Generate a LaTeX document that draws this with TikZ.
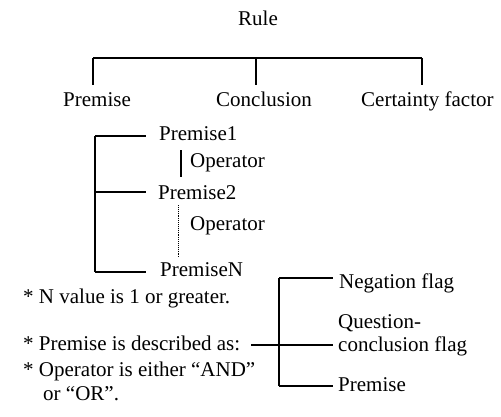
\documentclass[tikz,border=0pt]{standalone}
\usepackage{fontspec}
\setmainfont{Liberation Serif}
\begin{document}
\begin{tikzpicture}[x=1pt,y=-1pt,
    every node/.style={inner sep=0pt, font=\fontsize{21}{24}\selectfont},
    lbl/.style={anchor=base west},
    tree/.style={line width=1.2pt}]
    \useasboundingbox (0,0) rectangle (501,416);

    %-------------------------
    % Rule and its parts
    %-------------------------
    \node[lbl] (rule) at (238,25.5) {Rule};
    \node[lbl] (premise) at (63,106.5) {Premise};
    \node[lbl] (conclusion) at (216,106.5) {Conclusion};
    \node[lbl] (certainty) at (361,106.5) {Certainty factor};

    \coordinate (tl) at (93,58);
    \coordinate (tm) at (256,58);
    \coordinate (tr) at (422,58);
    \draw[tree] (tl) -- (tr);
    \draw[tree] (tl) -- (tl |- 0,85);
    \draw[tree] (tm) -- (tm |- 0,85);
    \draw[tree] (tr) -- (tr |- 0,85);

    %-------------------------
    % Premise list
    %-------------------------
    \node[lbl] (p1) at (159,140.5) {Premise1};
    \node[lbl] (op1) at (190,167) {Operator};
    \node[lbl] (p2) at (158,199.5) {Premise2};
    \node[lbl] (op2) at (190,230) {Operator};
    \node[lbl] (pn) at (160,276.7) {PremiseN};

    \coordinate (l1) at (95,136);
    \coordinate (l2) at (95,192);
    \coordinate (ln) at (95,272);
    \draw[tree] (l1) -- (ln);
    \draw[tree] (l1) -- +(51,0);
    \draw[tree] (l2) -- +(51,0);
    \draw[tree] (ln) -- +(51,0);

    % Operator marks
    \draw[tree] (181,150) -- (181,177);
    \draw[densely dotted, line width=0.9pt] (178,205) -- (178,258);

    %-------------------------
    % Notes
    %-------------------------
    \node[lbl] (note1) at (23,303) {* N value is 1 or greater.};
    \node[lbl] (note2) at (23,350) {* Premise is described as:};
    \node[lbl] (note3) at (23,376.7) {* Operator is either “AND”};
    \node[lbl] (note4) at (43,400) {or “OR”.};

    %-------------------------
    % Premise parts
    %-------------------------
    \node[lbl] (neg) at (339,288) {Negation flag};
    \node[lbl] (qflag) at (338,328) {Question-};
    \node[lbl] (qflag2) at (338,351.7) {conclusion flag};
    \node[lbl] (prem) at (338,391.7) {Premise};

    \coordinate (r1) at (279,278);
    \coordinate (r2) at (279,345);
    \coordinate (r3) at (279,386);
    \draw[tree] (r1) -- (r3);
    \draw[tree] (r1) -- +(54,0);
    \draw[tree] (r2) -- +(54,0);
    \draw[tree] (r3) -- +(54,0);
    \draw[tree] (251,345) -- (r2);

\end{tikzpicture}
\end{document}
